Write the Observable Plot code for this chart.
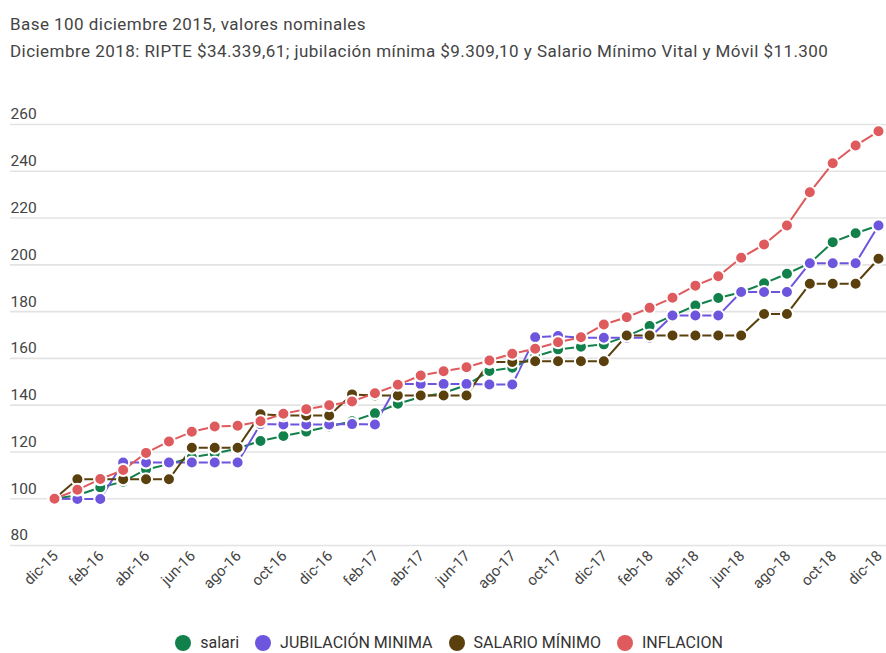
<!DOCTYPE html>
<html>
<head>
<meta charset="utf-8">
<script src="https://cdn.jsdelivr.net/npm/d3@7"></script>
<script src="https://cdn.jsdelivr.net/npm/@observablehq/plot@0.6"></script>
<style>
  body { margin: 0; background: #fff; font-family: Roboto, "Noto Sans", sans-serif; }
  #head { position: absolute; left: 10px; top: 11px; color: #444; font-size: 17px; letter-spacing: 0.45px; line-height: 27px; white-space: nowrap; }
  #chart { position: absolute; left: 0; top: 70px; }
  #legend { position: absolute; left: 6px; top: 633px; width: 886px; display: flex; justify-content: center; font-size: 16px; color: #333; }
  .item { display: flex; align-items: center; margin: 0 8px; }
  .sw { width: 16px; height: 16px; border-radius: 50%; margin-right: 9px; }
</style>
</head>
<body>
<div id="head">
  <div>Base 100 diciembre 2015, valores nominales</div>
  <div>Diciembre 2018: RIPTE $34.339,61; jubilación mínima $9.309,10 y Salario Mínimo Vital y Móvil $11.300</div>
</div>
<div id="chart"></div>
<div id="legend"></div>
<script>
const months = ["dic-15","ene-16","feb-16","mar-16","abr-16","may-16","jun-16","jul-16","ago-16","sep-16","oct-16","nov-16",
  "dic-16","ene-17","feb-17","mar-17","abr-17","may-17","jun-17","jul-17","ago-17","sep-17","oct-17","nov-17",
  "dic-17","ene-18","feb-18","mar-18","abr-18","may-18","jun-18","jul-18","ago-18","sep-18","oct-18","nov-18","dic-18"];

const seriesNames = ["salari", "JUBILACIÓN MINIMA", "SALARIO MÍNIMO", "INFLACION"];
const seriesColors = ["#12804a", "#6e55de", "#5a400c", "#df5a5c"];

const salari = [100, 101.5, 104.8, 107.3, 112.5, 114.8, 117.7, 119.3, 121.5, 124.7, 126.8, 128.7,
  130.9, 133.1, 136.5, 140.6, 143.5, 145.2, 148.6, 154.6, 156.0, 160.8, 163.8, 165.0,
  166.0, 169.5, 173.8, 178.3, 182.6, 185.8, 188.3, 192.1, 196.2, 200.7, 209.7, 213.5, 216.8];

const jubilacion = [100, 99.9, 99.9, 115.5, 115.5, 115.5, 115.5, 115.5, 115.5, 131.9, 131.7, 131.7,
  131.7, 131.9, 131.7, 149.0, 149.0, 149.0, 149.0, 148.8, 148.8, 169.0, 169.6, 168.8,
  168.8, 168.8, 168.8, 178.3, 178.3, 178.3, 188.4, 188.4, 188.4, 200.7, 200.7, 200.7, 216.8];

const salarioMinimo = [100, 108.3, 108.3, 108.3, 108.3, 108.3, 121.8, 121.8, 121.8, 136.1, 135.6, 135.6,
  135.6, 144.6, 144.1, 144.1, 144.1, 144.1, 144.1, 158.5, 158.5, 158.8, 158.8, 158.8,
  158.8, 169.8, 169.8, 169.8, 169.8, 169.8, 169.8, 179.0, 179.0, 191.9, 191.9, 191.9, 202.6];

const inflacion = [100, 103.8, 108.4, 112.3, 119.6, 124.5, 128.6, 130.9, 131.2, 133.1, 136.3, 138.3,
  140.0, 141.6, 145.1, 148.7, 152.7, 154.5, 156.2, 159.1, 162.0, 164.1, 166.9, 169.0,
  174.5, 177.6, 181.6, 185.9, 191.1, 195.1, 203.0, 208.7, 216.8, 231.0, 243.4, 251.0, 257.1];

const yTicks = [80, 100, 120, 140, 160, 180, 200, 220, 240, 260];
const xTicks = months.filter((d, i) => i % 2 === 0);

const allSeries = [salari, jubilacion, salarioMinimo, inflacion];
const data = [];
allSeries.forEach((vals, s) => vals.forEach((v, i) => data.push({month: months[i], value: v, serie: seriesNames[s]})));

const chart = Plot.plot({
  width: 886,
  height: 540,
  marginTop: 54,
  marginBottom: 65,
  marginLeft: 54,
  marginRight: 8,
  style: {fontFamily: "Roboto, sans-serif", background: "transparent"},
  x: {type: "point", domain: months, padding: 0, label: null},
  y: {domain: [80, 260], label: null},
  color: {domain: seriesNames, range: seriesColors},
  marks: [
    Plot.gridY(yTicks, {stroke: "#e3e3e3", strokeOpacity: 1, strokeWidth: 1.6, insetLeft: -44, insetRight: -8}),
    Plot.axisY(yTicks, {tickSize: 0, tickPadding: 0, textAnchor: "start", dx: -44, dy: -10, fontSize: 15.5, fill: "#444", label: null}),
    Plot.axisX(xTicks, {tickSize: 0, tickPadding: 8, tickRotate: -45, fontSize: 15, fill: "#444", label: null, dx: 1}),
    Plot.line(data, {x: "month", y: "value", z: "serie", stroke: "serie", strokeWidth: 2}),
    Plot.dot(data, {x: "month", y: "value", fill: "serie", stroke: "white", strokeWidth: 2, r: 6})
  ]
});
document.getElementById("chart").appendChild(chart);

const legend = document.getElementById("legend");
seriesNames.forEach((n, i) => {
  const it = document.createElement("div");
  it.className = "item";
  it.innerHTML = `<span class="sw" style="background:${seriesColors[i]}"></span><span>${n}</span>`;
  legend.appendChild(it);
});
</script>
</body>
</html>
